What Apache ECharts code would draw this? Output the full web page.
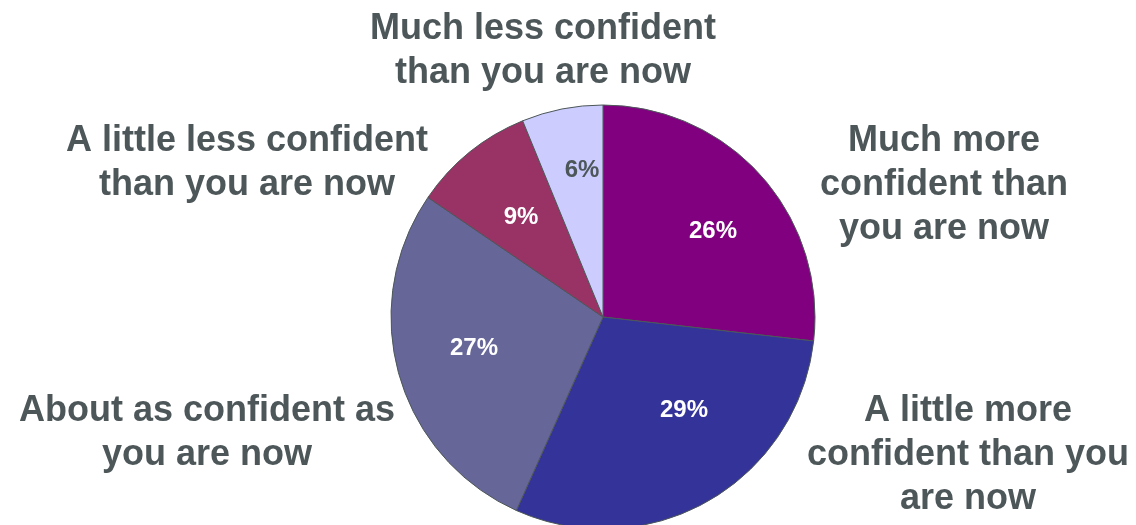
<!DOCTYPE html>
<html>
<head>
<meta charset="utf-8">
<title>Confidence</title>
<script src="https://cdn.jsdelivr.net/npm/echarts@6/dist/echarts.min.js"></script>
<style>
  html, body { margin: 0; padding: 0; background: #ffffff; }
  #chart { width: 1136px; height: 525px; }
</style>
</head>
<body>
<div id="chart"></div>
<script>
// Answer categories, clockwise from 12 o'clock
const categories = [
  'Much more\nconfident than\nyou are now',
  'A little more\nconfident than you\nare now',
  'About as confident as\nyou are now',
  'A little less confident\nthan you are now',
  'Much less confident\nthan you are now'
];
// Share of respondents, percent
const shares = [26, 29, 27, 9, 6];
const sliceColors = ['#800080', '#333399', '#666699', '#993366', '#CCCCFF'];
const valueLabelColors = ['#ffffff', '#ffffff', '#ffffff', '#ffffff', '#4d5759'];

// Label anchor points (pixels)
const valueLabelPos = [[713, 231], [684, 410], [474, 348], [521, 217], [582, 170]];
const nameLabelPos = [[944, 185], [968, 455], [207, 433], [247, 163], [543, 51]];

const textColor = '#4d5759';
const font = '"Liberation Sans", Arial, Helvetica, sans-serif';
const center = [603, 317];
const radius = 212;

const chart = echarts.init(document.getElementById('chart'), null, { renderer: 'canvas' });

chart.setOption({
  animation: false,
  backgroundColor: '#ffffff',
  series: [
    {
      type: 'pie',
      center: center,
      radius: radius,
      startAngle: 90,
      clockwise: true,
      silent: true,
      data: categories.map((name, i) => ({
        name: name,
        value: shares[i],
        itemStyle: { color: sliceColors[i] },
        label: { color: valueLabelColors[i] }
      })),
      itemStyle: { borderColor: '#4d5759', borderWidth: 1 },
      label: {
        show: true,
        position: 'inside',
        formatter: '{c}%',
        fontFamily: font,
        fontWeight: 'bold',
        fontSize: 24
      },
      labelLine: { show: false },
      labelLayout: (p) => ({
        x: valueLabelPos[p.dataIndex][0],
        y: valueLabelPos[p.dataIndex][1],
        align: 'center',
        verticalAlign: 'middle'
      })
    },
    {
      // Category names placed around the pie
      type: 'pie',
      center: center,
      radius: radius,
      startAngle: 90,
      clockwise: true,
      silent: true,
      z: 1,
      data: categories.map((name, i) => ({ name: name, value: shares[i] })),
      itemStyle: { color: 'rgba(0,0,0,0)', borderWidth: 0 },
      label: {
        show: true,
        position: 'inside',
        formatter: '{b}',
        color: textColor,
        fontFamily: font,
        fontWeight: 'bold',
        fontSize: 36,
        lineHeight: 44,
        align: 'center'
      },
      labelLine: { show: false },
      labelLayout: (p) => ({
        x: nameLabelPos[p.dataIndex][0],
        y: nameLabelPos[p.dataIndex][1],
        align: 'center',
        verticalAlign: 'middle'
      })
    }
  ]
});
</script>
</body>
</html>
